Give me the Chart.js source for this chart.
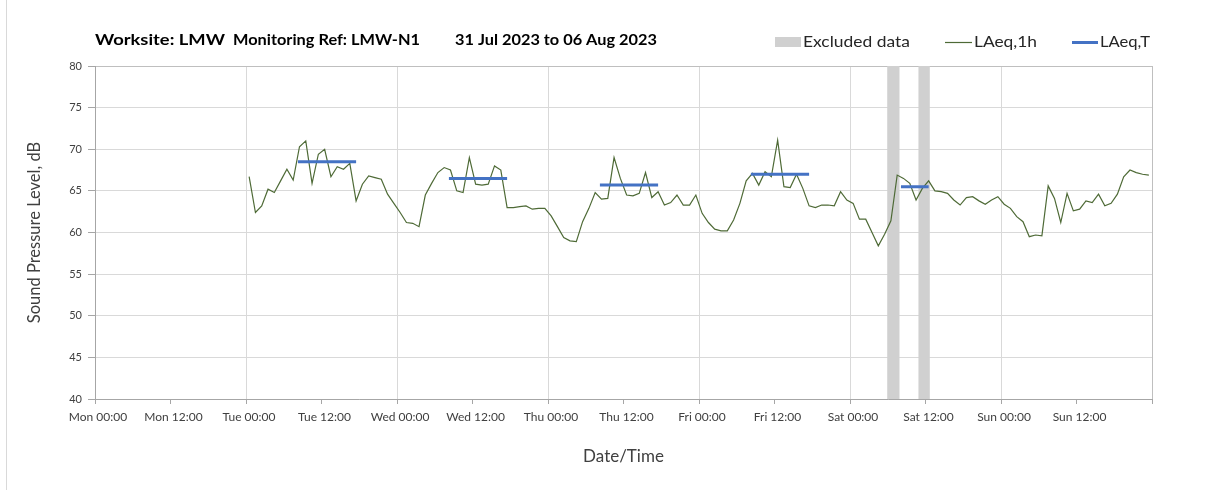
<!DOCTYPE html>
<html>
<head>
<meta charset="utf-8">
<title>LMW-N1 noise monitoring</title>
<script src="https://cdn.jsdelivr.net/npm/chart.js@4.4.0/dist/chart.umd.min.js"></script>
<style>
  html, body { margin: 0; padding: 0; background: #ffffff; }
  #wrap { position: relative; width: 1208px; height: 490px; }
</style>
</head>
<body>
<div id="wrap"><canvas id="noiseChart" width="1208" height="490"></canvas></div>
<script>
// --- Data (hours counted from Mon 00:00) ---
const xTickLabels = ["Mon 00:00", "Mon 12:00", "Tue 00:00", "Tue 12:00", "Wed 00:00", "Wed 12:00",
  "Thu 00:00", "Thu 12:00", "Fri 00:00", "Fri 12:00", "Sat 00:00", "Sat 12:00", "Sun 00:00", "Sun 12:00", ""];

// hourly LAeq,1h, first value at Tue 00:30
const firstHour = 24.5;
const laeq1h = [
  66.7, 62.4, 63.2, 65.2, 64.8, 66.2, 67.6, 66.3, 70.3, 71.0, 65.9, 69.4,
  70.0, 66.7, 67.9, 67.6, 68.3, 63.8, 65.8, 66.8, 66.6, 66.4, 64.6, 63.5,
  62.4, 61.2, 61.1, 60.7, 64.5, 65.9, 67.2, 67.8, 67.5, 65.0, 64.8, 69.0,
  65.8, 65.7, 65.8, 68.0, 67.5, 63.0, 63.0, 63.1, 63.2, 62.8, 62.9, 62.9,
  62.0, 60.7, 59.4, 59.0, 58.9, 61.3, 62.9, 64.8, 64.0, 64.1, 69.0, 66.5,
  64.5, 64.4, 64.7, 67.2, 64.2, 64.9, 63.3, 63.6, 64.5, 63.3, 63.3, 64.5,
  62.3, 61.2, 60.4, 60.2, 60.2, 61.5, 63.5, 66.2, 67.1, 65.7, 67.3, 66.7,
  71.1, 65.5, 65.4, 67.0, 65.3, 63.2, 63.0, 63.3, 63.3, 63.2, 64.9, 63.9,
  63.5, 61.6, 61.6, 60.0, 58.4, 59.8, 61.4, 66.9, 66.5, 65.9, 63.9, 65.3,
  66.2, 65.0, 64.9, 64.7, 63.9, 63.3, 64.2, 64.3, 63.8, 63.4, 63.9, 64.3,
  63.4, 62.9, 61.9, 61.3, 59.5, 59.7, 59.6, 65.6, 64.1, 61.2, 64.7, 62.6,
  62.8, 63.8, 63.6, 64.6, 63.2, 63.5, 64.6, 66.7, 67.5, 67.2, 67.0, 66.9
];

// LAeq,T daytime periods
const laeqTStart = [32.25, 56.25, 80.25, 104.25, 128.1];
const laeqTEnd = [41.5, 65.5, 89.5, 113.5, 132.5];
const laeqT = [68.5, 66.5, 65.7, 67.0, 65.5];

// excluded data windows (Sat)
const excludedStart = [125.9, 130.85];
const excludedEnd = [127.9, 132.7];

const yMin = 40, yMax = 80;

const titleParts = ["Worksite: LMW", "Monitoring Ref: LMW-N1", "31 Jul 2023 to 06 Aug 2023"];

// --- Build series for Chart.js ---
const lineSeries = laeq1h.map((v, i) => ({ x: firstHour + i, y: v }));

const periodSeries = [];
laeqT.forEach((v, i) => {
  periodSeries.push({ x: laeqTStart[i], y: v }, { x: laeqTEnd[i], y: v }, { x: laeqTEnd[i], y: null });
});

const bandSeries = [];
excludedStart.forEach((s, i) => {
  bandSeries.push({ x: s, y: yMax }, { x: excludedEnd[i], y: yMax }, { x: excludedEnd[i], y: null });
});

const FONT = "Lato, 'Open Sans', sans-serif";

// text drawn to a given width (the original font runs wider than Lato)
function fitText(ctx, text, x, y, width) {
  const w = ctx.measureText(text).width;
  ctx.save();
  ctx.translate(x, y);
  ctx.scale(width / w, 1);
  ctx.fillText(text, 0, 0);
  ctx.restore();
}

// title + legend drawn on one row above the plot
const headerPlugin = {
  id: "header",
  afterDraw(chart) {
    const ctx = chart.ctx;
    ctx.save();
    // chart frame (left edge)
    ctx.strokeStyle = "#d9d9d9";
    ctx.lineWidth = 1;
    ctx.beginPath();
    ctx.moveTo(6.5, 0);
    ctx.lineTo(6.5, 490);
    ctx.stroke();

    ctx.textBaseline = "middle";
    ctx.fillStyle = "#000000";
    ctx.font = "bold 15px " + FONT;
    const tx = [95, 233, 455];
    const tw = [130, 187, 202];
    titleParts.forEach((t, i) => fitText(ctx, t, tx[i], 40, tw[i]));

    // legend
    const ds = chart.data.datasets;
    const band = ds.find(d => d.id === "excl");
    const green = ds.find(d => d.id === "l1h");
    const blue = ds.find(d => d.id === "lt");
    ctx.font = "16px " + FONT;

    ctx.fillStyle = band.backgroundColor;
    ctx.fillRect(775, 37, 26, 10);
    ctx.fillStyle = "#262626";
    fitText(ctx, band.label, 803, 42, 107);

    ctx.strokeStyle = green.borderColor;
    ctx.lineWidth = green.borderWidth;
    ctx.beginPath(); ctx.moveTo(945, 42.5); ctx.lineTo(972, 42.5); ctx.stroke();
    fitText(ctx, green.label, 974, 42, 63);

    ctx.strokeStyle = blue.borderColor;
    ctx.lineWidth = blue.borderWidth;
    ctx.beginPath(); ctx.moveTo(1072, 42.5); ctx.lineTo(1098, 42.5); ctx.stroke();
    fitText(ctx, blue.label, 1100, 42, 50);
    ctx.restore();
  }
};

window.addEventListener("load", function () {
  const ctx = document.getElementById("noiseChart").getContext("2d");
  new Chart(ctx, {
    type: "line",
    data: {
      datasets: [
        {
          id: "lt",
          label: "LAeq,T",
          data: periodSeries,
          borderColor: "#4472C4",
          borderWidth: 3,
          pointRadius: 0,
          spanGaps: false,
          fill: false,
          order: 1
        },
        {
          id: "l1h",
          label: "LAeq,1h",
          data: lineSeries,
          borderColor: "#4e6a36",
          borderWidth: 1.2,
          pointRadius: 0,
          tension: 0,
          fill: false,
          order: 2
        },
        {
          id: "excl",
          label: "Excluded data",
          data: bandSeries,
          borderWidth: 0,
          borderColor: "rgba(0,0,0,0)",
          backgroundColor: "#d0d0d0",
          pointRadius: 0,
          spanGaps: false,
          fill: "start",
          order: 3
        }
      ]
    },
    options: {
      responsive: false,
      animation: false,
      events: [],
      layout: { padding: { left: 8, right: 56, top: 66, bottom: 14 } },
      plugins: {
        legend: { display: false },
        tooltip: { enabled: false }
      },
      scales: {
        x: {
          type: "linear",
          min: 0,
          max: 168,
          afterFit(scale) { scale.height = 77; },
          ticks: {
            stepSize: 12,
            autoSkip: false,
            maxRotation: 0,
            padding: 6,
            labelOffset: 3,
            color: "#404040",
            font: { family: FONT, size: 12 },
            callback: (v) => xTickLabels[v / 12]
          },
          grid: {
            color: (c) => {
              if (!c.tick) return "rgba(0,0,0,0)";
              if (c.tick.value === 168) return "#bfbfbf";
              return c.tick.value % 24 === 0 ? "#d9d9d9" : "rgba(0,0,0,0)";
            },
            tickColor: "#a6a6a6",
            tickLength: 5
          },
          border: { color: "#a6a6a6" },
          title: {
            display: true,
            text: "Date/Time",
            color: "#404040",
            font: { family: FONT, size: 17 },
            padding: { top: 0, bottom: 9 }
          }
        },
        y: {
          min: yMin,
          max: yMax,
          afterFit(scale) { scale.width = 87; },
          ticks: {
            stepSize: 5,
            padding: 6,
            color: "#404040",
            font: { family: FONT, size: 11 }
          },
          grid: {
            color: (c) => (c.tick && c.tick.value === yMax ? "#bfbfbf" : "#d9d9d9"),
            tickColor: "#a6a6a6",
            tickLength: 7
          },
          border: { color: "#a6a6a6" },
          title: {
            display: true,
            text: "Sound Pressure Level, dB",
            color: "#404040",
            font: { family: FONT, size: 16.5 },
            padding: { top: 17, bottom: 0 }
          }
        }
      }
    },
    plugins: [headerPlugin]
  });
});
</script>
</body>
</html>
